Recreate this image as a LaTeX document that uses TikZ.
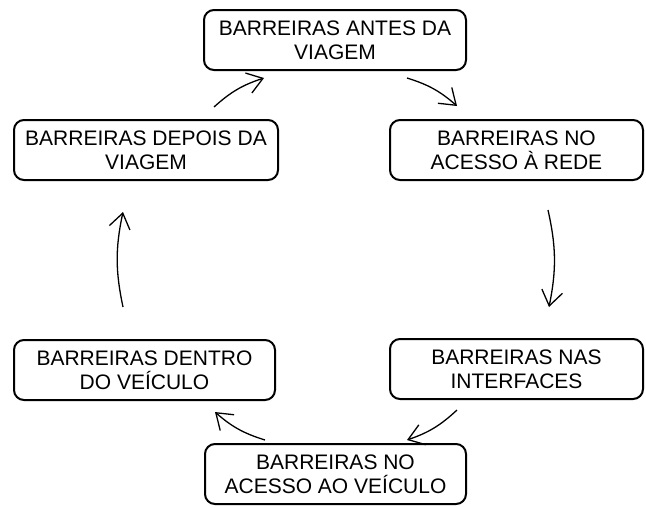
\documentclass[tikz,border=0pt]{standalone}
\usepackage{fontspec}
\setmainfont{Liberation Sans}
\usetikzlibrary{arrows.meta}

\tikzset{
  barreira/.style={draw, line width=2pt, rounded corners=10pt, align=center,
    inner sep=0pt, minimum height=60pt, font=\fontsize{21}{24}\selectfont},
  ciclo/.style={line width=1.3pt, bend left=12,
    -{Straight Barb[length=15pt,width=21pt,line width=1.3pt]}},
}

\begin{document}
\begin{tikzpicture}[x=1pt,y=-1pt]
  \useasboundingbox (0,0) rectangle (646,507);
  \node[barreira, minimum width=262pt] (antes)   at (335,40)    {BARREIRAS ANTES DA\\VIAGEM};
  \node[barreira, minimum width=253pt] (rede)    at (516.5,150) {BARREIRAS NO\\ACESSO À REDE};
  \node[barreira, minimum width=253pt] (inter)   at (516.5,369) {BARREIRAS NAS\\INTERFACES};
  \node[barreira, minimum width=261pt] (acesso)  at (335.5,474) {BARREIRAS NO\\ACESSO AO VEÍCULO};
  \node[barreira, minimum width=261pt] (dentro)  at (144.5,370) {BARREIRAS DENTRO\\DO VEÍCULO};
  \node[barreira, minimum width=264pt] (depois)  at (146,150)   {BARREIRAS DEPOIS DA\\VIAGEM};
  % pontas livres das setas
  \coordinate (s1) at (214,107);
  \coordinate (e1) at (264,78);
  \coordinate (s2) at (407,78);
  \coordinate (e2) at (457,106);
  \coordinate (s3) at (548,210);
  \coordinate (e3) at (549,307);
  \coordinate (s4) at (457,410);
  \coordinate (e4) at (407,440);
  \coordinate (s5) at (265,440);
  \coordinate (e5) at (215,412);
  \coordinate (s6) at (123,307);
  \coordinate (e6) at (123,212);
  \draw[ciclo] (s1) to (e1);
  \draw[ciclo] (s2) to (e2);
  \draw[ciclo] (s3) to (e3);
  \draw[ciclo] (s4) to (e4);
  \draw[ciclo] (s5) to (e5);
  \draw[ciclo] (s6) to (e6);
\end{tikzpicture}
\end{document}
